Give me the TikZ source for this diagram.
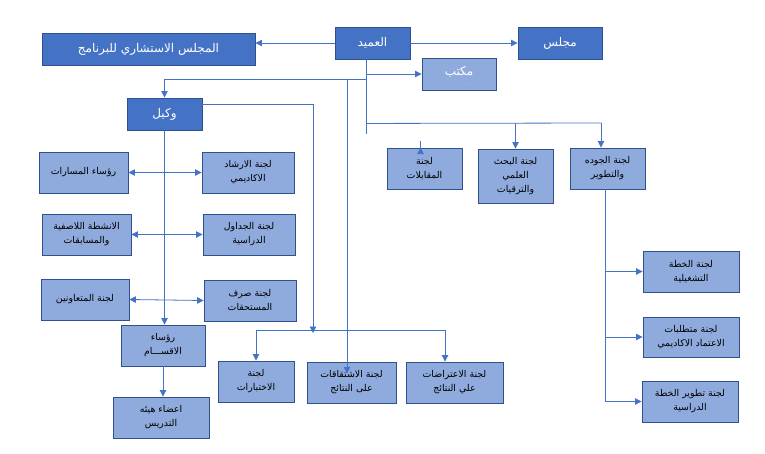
\documentclass[tikz,border=0pt]{standalone}
\usepackage{fontspec}
\usetikzlibrary{arrows.meta,calc}
\TeXXeTstate=1
\newfontfamily\arabicfont[Script=Arabic]{DejaVu Sans}
\newcommand{\AR}[1]{\beginR #1\endR}
\definecolor{dkfill}{HTML}{4472C4}
\definecolor{bdr}{HTML}{2F528F}
\definecolor{ltfill}{HTML}{8FAADC}
\definecolor{ln}{HTML}{4472C4}
\tikzset{
  dk/.style={draw=bdr, fill=dkfill, line width=0.9pt, text=white, inner sep=1pt,
    font=\arabicfont\fontsize{12}{14}\selectfont, align=center},
  lt/.style={draw=bdr, fill=ltfill, line width=0.9pt, text=black, inner sep=1pt,
    font=\arabicfont\fontsize{9.4}{14}\selectfont, align=center},
  wire/.style={draw=ln, line width=0.8pt},
  arr/.style={wire, -{Triangle[length=6.5pt,width=6.5pt]}},
  darr/.style={wire, {Triangle[length=6.5pt,width=6.5pt]}-{Triangle[length=6.5pt,width=6.5pt]}},
}
\begin{document}
\begin{tikzpicture}[x=1pt,y=-1pt]
\useasboundingbox (0,0) rectangle (765,453);
% top level
\node[dk, minimum width=75pt, minimum height=32pt] (amid) at (372.5,43) {\AR{العميد}};
\node[dk, minimum width=213pt, minimum height=32pt] (adv) at (148.5,49) {\AR{المجلس الاستشاري للبرنامج}};
\node[dk, minimum width=84pt, minimum height=32pt] (majlis) at (560,43) {\AR{مجلس}};
\node[dk, fill=ltfill, minimum width=74pt, minimum height=32pt] (office) at (459,74) {};
\node[text=white, font=\arabicfont\fontsize{12}{14}\selectfont, inner sep=0pt] (officetxt) at (459,72) {\AR{مكتب}};
\node[text=white, font=\fontsize{5}{5}\selectfont, inner sep=0pt] (officedots) at (467,84) {..};
\node[dk, minimum width=75pt, minimum height=32pt] (wakil) at (164.5,114) {\AR{وكيل}};
% left block
\node[lt, minimum width=89pt, minimum height=41pt] (masarat) at (83.5,172.5) {\AR{رؤساء المسارات}};
\node[lt, minimum width=92pt, minimum height=41pt] (irshad) at (248,172.5) {\AR{لجنة الارشاد}\\\AR{الاكاديمي}};
\node[lt, minimum width=89pt, minimum height=41pt] (anshita) at (86.5,234.5) {\AR{الانشطة اللاصفية}\\\AR{والمسابقات}};
\node[lt, minimum width=92pt, minimum height=41pt] (jadawil) at (249,234.5) {\AR{لجنة الجداول}\\\AR{الدراسية}};
\node[lt, minimum width=88pt, minimum height=41pt] (mutaw) at (85,299.5) {\AR{لجنة المتعاونين}};
\node[lt, minimum width=92pt, minimum height=41pt] (sarf) at (250,300.5) {\AR{لجنة صرف}\\\AR{المستحقات}};
\node[lt, minimum width=84pt, minimum height=41pt] (aqsam) at (163,345.5) {\AR{رؤساء}\\\AR{الاقســـام}};
\node[lt, minimum width=96pt, minimum height=41pt] (aada) at (161,417.5) {\AR{اعضاء هيئه}\\\AR{التدريس}};
% bottom middle
\node[lt, minimum width=76pt, minimum height=41pt] (ikhtibar) at (256,381.5) {\AR{لجنة}\\\AR{الاختبارات}};
\node[lt, minimum width=89pt, minimum height=41pt] (ishtiq) at (351.5,382.5) {\AR{لجنة الاشتقاقات}\\\AR{على النتائج}};
\node[lt, minimum width=97pt, minimum height=41pt] (iatirad) at (454.5,382.5) {\AR{لجنة الاعتراضات}\\\AR{علي النتائج}};
% right top committees
\node[lt, minimum width=75pt, minimum height=41pt] (muqabalat) at (424.5,168.5) {\AR{لجنة}\\\AR{المقابلات}};
\node[lt, minimum width=75pt, minimum height=54pt] (bahth) at (515.5,176) {\AR{لجنة البحث}\\\AR{العلمي}\\\AR{والترقيات}};
\node[lt, minimum width=75pt, minimum height=41pt] (jawda) at (607.5,168.5) {\AR{لجنة الجوده}\\\AR{والتطوير}};
% right column
\node[lt, minimum width=96pt, minimum height=41pt] (tashgh) at (691,271.5) {\AR{لجنة الخطة}\\\AR{التشغيلية}};
\node[lt, minimum width=96pt, minimum height=40pt] (mutatal) at (691,337) {\AR{لجنة متطلبات}\\\AR{الاعتماد الاكاديمي}};
\node[lt, minimum width=96pt, minimum height=41pt] (tatwir) at (690,401.5) {\AR{لجنة تطوير الخطة}\\\AR{الدراسية}};
% coordinates
\coordinate (trunk) at ($(amid.south)+(-6.5,0)$);
\coordinate (trunkend) at ($(trunk)+(0,75)$);
\coordinate (wbranch) at ($(trunk)+(0,20)$);
\coordinate (ishtop) at (347,79);
\coordinate (rbus) at ($(trunk)+(0,64)$);
\coordinate (rbusend) at (601,123);
\coordinate (weast) at ($(wakil.east)+(0,-10)$);
\coordinate (wdrop) at (313,333);
\coordinate (busL) at (256,330);
\coordinate (busR) at (445,330);
\coordinate (jv) at ($(jawda.south)+(-2,0)$);
% connectors
\draw[arr] (amid.west) -- (amid.west -| adv.east);
\draw[arr] (amid.east) -- (majlis.west);
\draw[wire] (trunk) -- (trunkend);
\draw[arr] (trunk |- office.west) -- (office.west);
\draw[arr] (wbranch) -| (wakil.north);
\draw[arr] (ishtop) -- ($(ishtiq.north)+(-4.5,12)$);
\draw[wire] (rbus) -- (rbusend);
\draw[arr] ($(muqabalat.north)+(-4,0)$ |- rbus) -- ($(muqabalat.north)+(-4,0)$);
\draw[arr] (bahth.north |- rbus) -- (bahth.north);
\draw[arr] (rbusend) -- (rbusend |- jawda.north);
\draw[arr] (weast) -| (wdrop);
\draw[wire] (busL) -- (busR);
\draw[arr] (busL) -- (ikhtibar.north);
\draw[arr] (busR) -- (busR |- iatirad.north);
\draw[arr] (wakil.south) -- (wakil.south |- aqsam.north);
\draw[darr] (masarat.east) -- (irshad.west);
\draw[darr] (anshita.east) -- (jadawil.west);
\draw[darr] (mutaw.east) -- (sarf.west);
\draw[arr] (aqsam.south) -- (aqsam.south |- aada.north);
\draw[wire] (jv) -- (jv |- tatwir.west);
\draw[arr] (jv |- tashgh.west) -- (tashgh.west);
\draw[arr] (jv |- mutatal.west) -- (mutatal.west);
\draw[arr] (jv |- tatwir.west) -- (tatwir.west);
\end{tikzpicture}
\end{document}
